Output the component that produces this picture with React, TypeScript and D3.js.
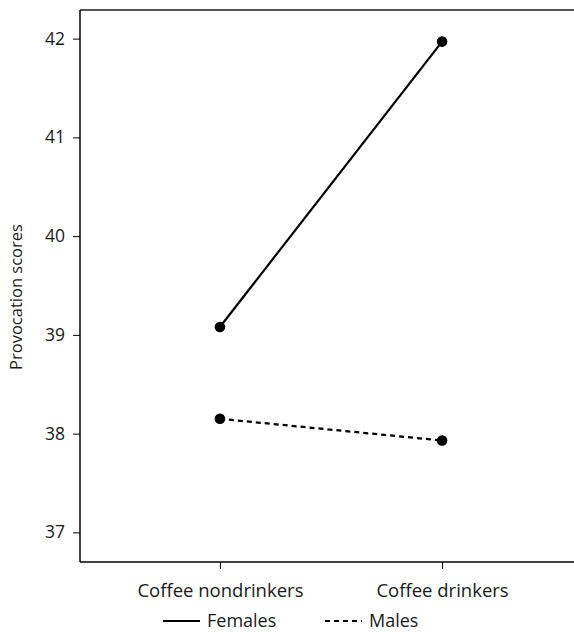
import React, { useEffect, useRef } from 'react';
import * as d3 from 'd3';

const categories = ['Coffee nondrinkers', 'Coffee drinkers'];
const females = [39.08, 41.97];
const males = [38.15, 37.93];
const yTicks = [37, 38, 39, 40, 41, 42];
const seriesNames = ['Females', 'Males'];

const FONT = '"Open Sans", Lato, sans-serif';

const App: React.FC = () => {
  const ref = useRef<SVGSVGElement | null>(null);

  useEffect(() => {
    const svg = d3.select(ref.current);
    svg.selectAll('*').remove();
    const width = 574;
    const height = 632;
    const margin = { top: 10, left: 80, bottom: 70 };
    const plotRight = 582;

    const x = d3.scalePoint<string>()
      .domain(categories)
      .range([margin.left, plotRight])
      .padding(0.63);

    const y = d3.scaleLinear()
      .domain([36.7, 42.29])
      .range([height - margin.bottom, margin.top]);

    // top border (grey)
    svg.append('line')
      .attr('x1', margin.left).attr('x2', width)
      .attr('y1', margin.top).attr('y2', margin.top)
      .attr('stroke', '#555').attr('stroke-width', 2);

    // y axis
    const yAxis = svg.append('g')
      .attr('transform', `translate(${margin.left},0)`)
      .call(d3.axisLeft(y).tickValues(yTicks).tickFormat(d3.format('d')).tickSize(7).tickPadding(8));
    yAxis.select('.domain').attr('stroke', '#000').attr('stroke-width', 1.5).attr('d', `M0,${margin.top}V${height - margin.bottom}`);
    yAxis.selectAll('text').attr('font-family', FONT).attr('font-size', 17.5).attr('fill', '#1a1a1a');

    // x axis
    const xAxis = svg.append('g')
      .attr('transform', `translate(0,${height - margin.bottom})`)
      .call(d3.axisBottom(x).tickSize(7).tickPadding(15));
    xAxis.select('.domain').attr('stroke', '#000').attr('stroke-width', 1.5).attr('d', `M${margin.left},0H${width}`);
    xAxis.selectAll('text').attr('font-family', FONT).attr('font-size', 18.5).attr('fill', '#1a1a1a');

    // y label
    svg.append('text')
      .attr('transform', `translate(22,297) rotate(-90)`)
      .attr('text-anchor', 'middle')
      .attr('font-family', FONT).attr('font-size', 16.5).attr('fill', '#1a1a1a')
      .text('Provocation scores');

    const line = d3.line<number>()
      .x((_, i) => x(categories[i]) as number)
      .y(d => y(d));

    const series = [
      { name: seriesNames[0], values: females, dash: null },
      { name: seriesNames[1], values: males, dash: '5,4' },
    ];

    series.forEach(s => {
      svg.append('path')
        .datum(s.values)
        .attr('fill', 'none')
        .attr('stroke', '#000')
        .attr('stroke-width', 2.2)
        .attr('stroke-dasharray', s.dash)
        .attr('d', line);
      svg.selectAll(null)
        .data(s.values)
        .enter()
        .append('circle')
        .attr('cx', (_, i) => x(categories[i]) as number)
        .attr('cy', d => y(d))
        .attr('r', 5.3)
        .attr('fill', '#000');
    });

    // legend
    const legendX = [163, 325];
    series.forEach((s, i) => {
      const g = svg.append('g').attr('transform', `translate(${legendX[i]},621)`);
      g.append('line')
        .attr('x1', 0).attr('x2', 37).attr('y1', 0).attr('y2', 0)
        .attr('stroke', '#000').attr('stroke-width', 2.2)
        .attr('stroke-dasharray', s.dash);
      g.append('text')
        .attr('x', 44).attr('y', 0).attr('dy', '0.35em')
        .attr('font-family', FONT).attr('font-size', 18).attr('fill', '#1a1a1a')
        .text(s.name);
    });
  }, []);

  return (
    <div style={{ position: 'absolute', left: 0, top: 0 }}>
      <svg ref={ref} width={574} height={632} style={{ display: 'block', background: '#fff' }} />
    </div>
  );
};

export default App;
